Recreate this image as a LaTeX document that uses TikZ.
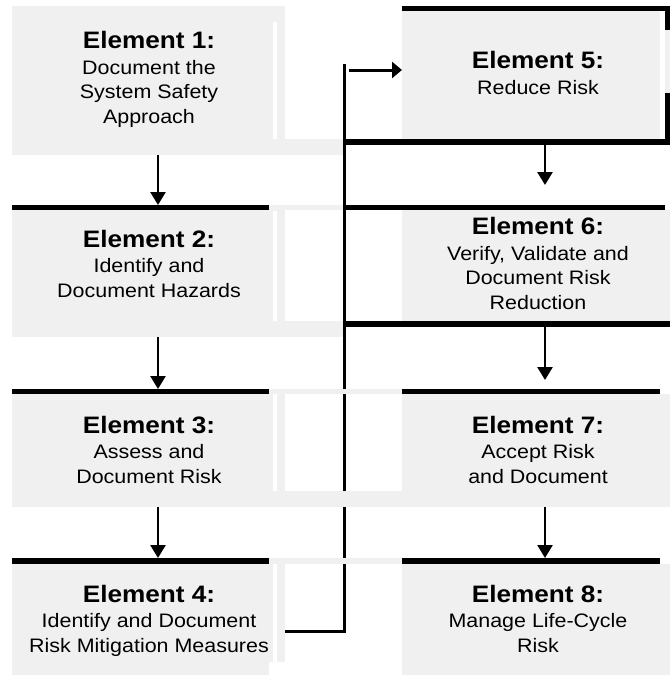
\documentclass[tikz,border=0pt]{standalone}
\usepackage{fontspec}
\setmainfont{Liberation Sans}[FakeStretch=1.1]
\usetikzlibrary{arrows.meta}
\definecolor{bg}{RGB}{240,240,240}
\newcommand\titlef{\fontsize{23.8}{24.5}\selectfont\bfseries}
\newcommand\bodyf{\fontsize{19.5}{24.5}\selectfont}
\tikzset{
  box/.style={fill=bg, draw=none, inner sep=0pt, outer sep=0pt, anchor=north west},
  barbox/.style={fill=black, draw=none, inner sep=0pt, outer sep=0pt, anchor=north west},
  label/.style={anchor=base, align=center, inner sep=0pt, font=\bodyf},
  conn/.style={line width=3pt, line join=miter, line cap=butt},
  arr/.style={line width=2.6pt, -{Triangle[width=15pt,length=13pt]}},
}
\begin{document}
\begin{tikzpicture}[x=1pt, y=-1pt]
\useasboundingbox (0,0) rectangle (670,675);
% ---------- left column boxes ----------
\node[box, minimum width=273pt, minimum height=149pt] (b1) at (12,6) {};
\fill[white] (273,22) rectangle (277,139);
\fill[bg] (285,139) rectangle (343,155);

\node[barbox, minimum width=257pt, minimum height=5pt] (bar2) at (12,205) {};
\fill[bg] (269,205) rectangle (343,210);
\node[box, minimum width=273pt, minimum height=127pt] (b2) at (12,210) {};
\fill[white] (273,211) rectangle (277,321);
\fill[bg] (285,321) rectangle (343,337);

\node[barbox, minimum width=257pt, minimum height=5pt] (bar3) at (12,389) {};
\node[box, minimum width=273pt, minimum height=113pt] (b3) at (12,394) {};
\fill[white] (273,394) rectangle (277,491);

\node[barbox, minimum width=257pt, minimum height=6pt] (bar4) at (12,558) {};
\node[box, minimum width=273pt, minimum height=98pt] (b4) at (12,564) {};
\fill[bg] (12,662) rectangle (269,675);
\fill[white] (273,564) rectangle (277,662);

% ---------- right column boxes ----------
\node[box, minimum width=258pt, minimum height=129pt] (b5) at (402,10) {};
\node[barbox, minimum width=266pt, minimum height=4.5pt] (bar5t) at (402,6) {};
\fill[black] (665,6) rectangle (670,30);
\fill[bg] (665,30) rectangle (670,93);
\fill[black] (665,93) rectangle (670,145);
\node[barbox, minimum width=327pt, minimum height=6pt] (bar5b) at (343,139) {};

\node[barbox, minimum width=322pt, minimum height=5pt] (bar6t) at (343,205) {};
\node[box, minimum width=268pt, minimum height=111pt] (b6) at (402,210) {};
\node[barbox, minimum width=327pt, minimum height=6pt] (bar6b) at (343,321) {};

\node[barbox, minimum width=258pt, minimum height=5pt] (bar7) at (402,389) {};
\node[box, minimum width=268pt, minimum height=113pt] (b7) at (402,394) {};

\node[barbox, minimum width=258pt, minimum height=6pt] (bar8) at (402,558) {};
\node[box, minimum width=268pt, minimum height=111pt] (b8) at (402,564) {};

% ---------- feedback connector 4 -> 5 ----------
\coordinate (k1) at (344.5,631);
\coordinate (k2) at (344.5,64);
\coordinate (k3) at (349,70);
\draw[conn] (b4.east |- k1) -- (k1) -- (k2);
\draw[line width=3pt, -{Triangle[width=16pt,length=10pt]}] (k3) -- (b5.west |- k3);

% strips lying over the connector
\fill[bg] (269,389) rectangle (402,394);
\fill[bg] (285,491) rectangle (402,507);
\fill[bg] (269,558) rectangle (402,564);

% ---------- arrows ----------
\coordinate (ax) at (158,0);
\coordinate (bx) at (545,0);
\coordinate (e6) at (545,185);
\coordinate (e7) at (545,380);
\draw[arr] (b1.south -| ax) -- (bar2.north -| ax);
\draw[arr] (b2.south -| ax) -- (bar3.north -| ax);
\draw[arr] (b3.south -| ax) -- (bar4.north -| ax);
\draw[arr] (bar5b.south -| bx) -- (e6);
\draw[arr] (bar6b.south -| bx) -- (e7);
\draw[arr] (b7.south -| bx) -- (bar8.north -| bx);

% ---------- texts (anchor = baseline of last line) ----------
\node[label] (t1) at (149,123) {{\titlef Element 1:}\\[1pt]Document the\\System Safety\\Approach};
\node[label] (t2) at (149,297) {{\titlef Element 2:}\\[1pt]Identify and\\Document Hazards};
\node[label] (t3) at (149,483) {{\titlef Element 3:}\\[1pt]Assess and\\Document Risk};
\node[label] (t4) at (149,652) {{\titlef Element 4:}\\[1pt]Identify and Document\\Risk Mitigation Measures};
\node[label] (t5) at (538,94) {{\titlef Element 5:}\\[1pt]Reduce Risk};
\node[label] (t6) at (538,309) {{\titlef Element 6:}\\[1pt]Verify, Validate and\\Document Risk\\Reduction};
\node[label] (t7) at (538,483) {{\titlef Element 7:}\\[1pt]Accept Risk\\and Document};
\node[label] (t8) at (538,652) {{\titlef Element 8:}\\[1pt]Manage Life-Cycle\\Risk};
\end{tikzpicture}
\end{document}
